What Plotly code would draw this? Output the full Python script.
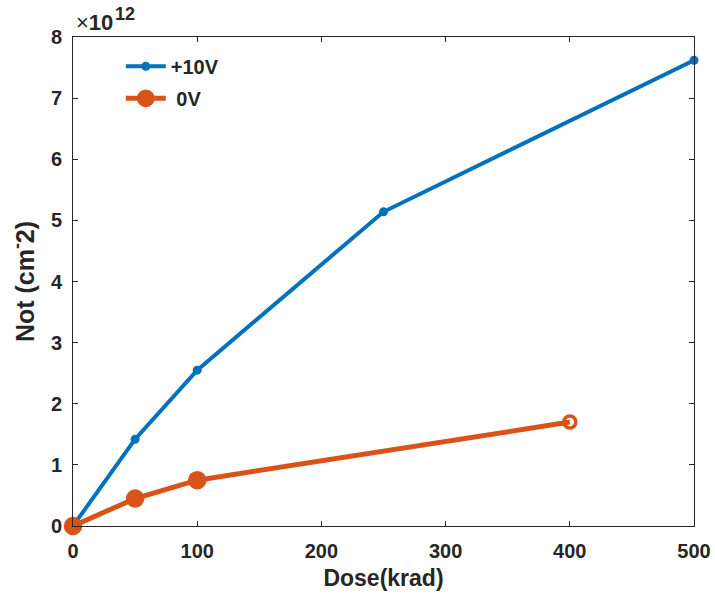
import plotly.graph_objects as go

# Radiation dose (krad) and oxide-trapped charge density (x1e12 cm^-2)
dose_10v = [0, 50, 100, 250, 500]
not_10v = [0, 1.42, 2.55, 5.14, 7.62]

dose_0v = [0, 50, 100, 400]
not_0v = [0, 0.45, 0.75, 1.70]

x_ticks = [0, 100, 200, 300, 400, 500]
y_ticks = [0, 1, 2, 3, 4, 5, 6, 7, 8]

BLUE = "#0072BD"
ORANGE = "#D95319"
TEXT = "#262626"
FONT = "Liberation Sans"

fig = go.Figure()

fig.add_trace(go.Scatter(
    x=dose_10v, y=not_10v, mode="lines+markers", name="+10V",
    legendgroup="a",
    line=dict(color=BLUE, width=4),
    marker=dict(color=BLUE, size=9, symbol="circle", opacity=1),
    cliponaxis=False,
))

fig.add_trace(go.Scatter(
    x=dose_0v, y=not_0v, mode="lines+markers", name=" 0V",
    legendgroup="b",
    line=dict(color=ORANGE, width=5),
    marker=dict(
        color=ORANGE,
        size=[15, 15, 15, 12],
        symbol=["circle", "circle", "circle", "circle-open"],
        line=dict(color=ORANGE, width=3.5),
        opacity=1,
    ),
    cliponaxis=False,
))

axis_common = dict(
    showgrid=False, zeroline=False, automargin=False,
    showline=True, linecolor=TEXT, linewidth=1, mirror="ticks",
    ticks="inside", ticklen=5, tickwidth=1, tickcolor=TEXT,
    tickfont=dict(family=FONT, size=20, color=TEXT, weight="bold"),
)

fig.update_xaxes(
    range=[0, 500], tickvals=x_ticks, ticktext=[str(v) for v in x_ticks],
    ticklabelstandoff=7,
    title=dict(text="Dose(krad)", standoff=8,
               font=dict(family=FONT, size=23, color=TEXT, weight="bold")),
    **axis_common,
)
fig.update_yaxes(
    range=[0, 8], tickvals=y_ticks, ticktext=[str(v) for v in y_ticks],
    ticklabelstandoff=6,
    title=dict(text="Not (cm<sup>-</sup>2)", standoff=9,
               font=dict(family=FONT, size=25, color=TEXT, weight="bold")),
    **axis_common,
)

# Axis exponent label: "×10" with a raised "12"
fig.add_annotation(
    x=0, y=1, xref="paper", yref="paper", xanchor="left", yanchor="middle",
    text="×<b>10</b>", showarrow=False, xshift=1, yshift=15,
    font=dict(family=FONT, size=22, color=TEXT),
)
fig.add_annotation(
    x=0, y=1, xref="paper", yref="paper", xanchor="left", yanchor="middle",
    text="<b>12</b>", showarrow=False, xshift=40, yshift=23,
    font=dict(family=FONT, size=18, color=TEXT),
)

fig.update_layout(
    width=715, height=596,
    margin=dict(l=73, r=21, t=37, b=70, autoexpand=False),
    paper_bgcolor="white", plot_bgcolor="white",
    showlegend=True,
    legend=dict(
        x=0.077, y=0.98, xanchor="left", yanchor="top",
        bgcolor="rgba(0,0,0,0)", borderwidth=0,
        font=dict(family=FONT, size=20, color=TEXT, weight="bold"),
        itemwidth=40, tracegroupgap=3,
    ),
)

fig.write_html("out.html")
